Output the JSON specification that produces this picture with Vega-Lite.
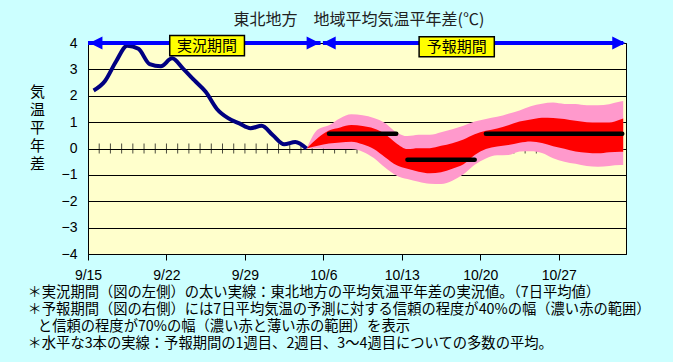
{
  "$schema": "https://vega.github.io/schema/vega-lite/v6.json",
  "width": 538,
  "height": 211,
  "autosize": {"type": "none"},
  "padding": {"left": 88, "top": 43, "right": 47, "bottom": 108},
  "background": "#ccffff",
  "view": {"fill": "#ffffcc", "stroke": "#000000", "strokeWidth": 1},
  "title": {
    "text": "東北地方　地域平均気温平年差(℃)",
    "font": "Noto Sans CJK JP",
    "fontSize": 16,
    "fontWeight": "normal",
    "color": "#222222",
    "anchor": "middle",
    "baseline": "alphabetic",
    "offset": -6,
    "dx": 2
  },
  "config": {
    "axis": {
      "labelFont": "Liberation Sans",
      "labelFontSize": 14,
      "labelColor": "#000000",
      "labelFlush": false,
      "labelOverlap": false
    }
  },
  "datasets": {
    "obs": [
      {"date": "2024-09-15T12:00", "v": 2.2},
      {"date": "2024-09-16T12:00", "v": 2.55},
      {"date": "2024-09-17T12:00", "v": 3.3},
      {"date": "2024-09-18T12:00", "v": 3.9},
      {"date": "2024-09-19T12:00", "v": 3.78},
      {"date": "2024-09-20T12:00", "v": 3.2},
      {"date": "2024-09-21T12:00", "v": 3.12},
      {"date": "2024-09-22T12:00", "v": 3.42},
      {"date": "2024-09-23T12:00", "v": 3.02},
      {"date": "2024-09-24T12:00", "v": 2.58},
      {"date": "2024-09-25T12:00", "v": 2.15},
      {"date": "2024-09-26T12:00", "v": 1.5},
      {"date": "2024-09-27T12:00", "v": 1.15},
      {"date": "2024-09-28T12:00", "v": 0.95},
      {"date": "2024-09-29T12:00", "v": 0.77},
      {"date": "2024-09-30T12:00", "v": 0.86},
      {"date": "2024-10-01T12:00", "v": 0.5},
      {"date": "2024-10-02T12:00", "v": 0.16},
      {"date": "2024-10-03T12:00", "v": 0.25},
      {"date": "2024-10-04T12:00", "v": 0.0}
    ],
    "fc": [
      {"date": "2024-10-04T12:00", "pt": 0, "rt": 0, "rb": 0, "pb": 0},
      {"date": "2024-10-05T12:00", "pt": 0.72, "rt": 0.4, "rb": 0.1, "pb": 0.0},
      {"date": "2024-10-06T12:00", "pt": 0.88, "rt": 0.68, "rb": 0.19, "pb": -0.02},
      {"date": "2024-10-07T12:00", "pt": 1.15, "rt": 0.8, "rb": 0.23, "pb": -0.02},
      {"date": "2024-10-08T12:00", "pt": 1.3, "rt": 0.89, "rb": 0.26, "pb": -0.02},
      {"date": "2024-10-09T12:00", "pt": 1.26, "rt": 0.85, "rb": 0.16, "pb": -0.12},
      {"date": "2024-10-10T12:00", "pt": 1.16, "rt": 0.76, "rb": -0.02, "pb": -0.36},
      {"date": "2024-10-11T12:00", "pt": 0.97, "rt": 0.55, "rb": -0.33, "pb": -0.72},
      {"date": "2024-10-12T12:00", "pt": 0.62, "rt": 0.2, "rb": -0.63, "pb": -1.02},
      {"date": "2024-10-13T12:00", "pt": 0.47, "rt": -0.02, "rb": -0.77, "pb": -1.16},
      {"date": "2024-10-14T12:00", "pt": 0.52, "rt": 0.01, "rb": -0.88, "pb": -1.26},
      {"date": "2024-10-15T12:00", "pt": 0.52, "rt": 0.01, "rb": -0.94, "pb": -1.34},
      {"date": "2024-10-16T12:00", "pt": 0.62, "rt": 0.1, "rb": -0.9, "pb": -1.35},
      {"date": "2024-10-17T12:00", "pt": 0.73, "rt": 0.2, "rb": -0.77, "pb": -1.22},
      {"date": "2024-10-18T12:00", "pt": 0.86, "rt": 0.34, "rb": -0.6, "pb": -0.98},
      {"date": "2024-10-19T12:00", "pt": 1.02, "rt": 0.54, "rb": -0.25, "pb": -0.62},
      {"date": "2024-10-20T12:00", "pt": 1.12, "rt": 0.67, "rb": -0.02, "pb": -0.38},
      {"date": "2024-10-21T12:00", "pt": 1.2, "rt": 0.76, "rb": 0.08, "pb": -0.26},
      {"date": "2024-10-22T12:00", "pt": 1.32, "rt": 0.88, "rb": 0.13, "pb": -0.25},
      {"date": "2024-10-23T12:00", "pt": 1.44, "rt": 1.02, "rb": 0.22, "pb": -0.11},
      {"date": "2024-10-24T12:00", "pt": 1.6, "rt": 1.1, "rb": 0.27, "pb": -0.1},
      {"date": "2024-10-25T12:00", "pt": 1.7, "rt": 1.17, "rb": 0.21, "pb": -0.17},
      {"date": "2024-10-26T12:00", "pt": 1.74, "rt": 1.16, "rb": 0.09, "pb": -0.37},
      {"date": "2024-10-27T12:00", "pt": 1.69, "rt": 1.12, "rb": -0.01, "pb": -0.5},
      {"date": "2024-10-28T12:00", "pt": 1.69, "rt": 1.05, "rb": -0.11, "pb": -0.58},
      {"date": "2024-10-29T12:00", "pt": 1.64, "rt": 1.0, "rb": -0.16, "pb": -0.66},
      {"date": "2024-10-30T12:00", "pt": 1.64, "rt": 0.99, "rb": -0.18, "pb": -0.69},
      {"date": "2024-10-31T12:00", "pt": 1.68, "rt": 0.99, "rb": -0.14, "pb": -0.66},
      {"date": "2024-11-01T12:00", "pt": 1.78, "rt": 1.1, "rb": -0.12, "pb": -0.63},
      {"date": "2024-11-01T18:00", "pt": 1.8, "rt": 1.14, "rb": -0.12, "pb": -0.63}
    ],
    "means": [
      {"start": "2024-10-06T12:00", "end": "2024-10-12T12:00", "v": 0.56},
      {"start": "2024-10-13T12:00", "end": "2024-10-19T12:00", "v": -0.43},
      {"start": "2024-10-20T12:00", "end": "2024-11-01T16:00", "v": 0.56}
    ],
    "ticks": [
      {"t": "2024-09-16T00:00"}, {"t": "2024-09-17T00:00"}, {"t": "2024-09-18T00:00"}, {"t": "2024-09-19T00:00"},
      {"t": "2024-09-20T00:00"}, {"t": "2024-09-21T00:00"}, {"t": "2024-09-22T00:00"}, {"t": "2024-09-23T00:00"},
      {"t": "2024-09-24T00:00"}, {"t": "2024-09-25T00:00"}, {"t": "2024-09-26T00:00"}, {"t": "2024-09-27T00:00"},
      {"t": "2024-09-28T00:00"}, {"t": "2024-09-29T00:00"}, {"t": "2024-09-30T00:00"}, {"t": "2024-10-01T00:00"},
      {"t": "2024-10-02T00:00"}, {"t": "2024-10-03T00:00"}, {"t": "2024-10-04T00:00"}, {"t": "2024-10-05T00:00"},
      {"t": "2024-10-06T00:00"}, {"t": "2024-10-07T00:00"}, {"t": "2024-10-08T00:00"}, {"t": "2024-10-09T00:00"},
      {"t": "2024-10-10T00:00"}, {"t": "2024-10-11T00:00"}, {"t": "2024-10-12T00:00"}, {"t": "2024-10-13T00:00"},
      {"t": "2024-10-14T00:00"}, {"t": "2024-10-15T00:00"}, {"t": "2024-10-16T00:00"}, {"t": "2024-10-17T00:00"},
      {"t": "2024-10-18T00:00"}, {"t": "2024-10-19T00:00"}, {"t": "2024-10-20T00:00"}, {"t": "2024-10-21T00:00"},
      {"t": "2024-10-22T00:00"}, {"t": "2024-10-23T00:00"}, {"t": "2024-10-24T00:00"}, {"t": "2024-10-25T00:00"},
      {"t": "2024-10-26T00:00"}, {"t": "2024-10-27T00:00"}, {"t": "2024-10-28T00:00"}, {"t": "2024-10-29T00:00"},
      {"t": "2024-10-30T00:00"}, {"t": "2024-10-31T00:00"}, {"t": "2024-11-01T00:00"}
    ],
    "periods": [
      {"label": "実況期間", "s": "2024-09-15T00:00", "e": "2024-10-05T18:00", "hl": "2024-09-15T17:00", "hr": "2024-10-05T02:00", "bs": "2024-09-22T07:00", "be": "2024-09-28T23:00", "mid": "2024-09-25T15:00", "top": 4.28, "bot": 3.52, "ty": 3.88},
      {"label": "予報期間", "s": "2024-10-05T23:00", "e": "2024-11-01T18:00", "hl": "2024-10-06T12:30", "hr": "2024-11-01T08:30", "bs": "2024-10-14T13:00", "be": "2024-10-21T06:00", "mid": "2024-10-17T21:30", "top": 4.24, "bot": 3.48, "ty": 3.86}
    ]
  },
  "layer": [
    {
      "data": {"name": "ticks"},
      "mark": {"type": "tick", "orient": "vertical", "size": 10, "thickness": 1, "color": "#000000"},
      "encoding": {
        "x": {
          "field": "t", "type": "temporal",
          "scale": {"domain": [{"year": 2024, "month": 9, "date": 15}, {"year": 2024, "month": 11, "date": 2}]},
          "axis": {
            "values": [
              {"year": 2024, "month": 9, "date": 15}, {"year": 2024, "month": 9, "date": 22},
              {"year": 2024, "month": 9, "date": 29}, {"year": 2024, "month": 10, "date": 6},
              {"year": 2024, "month": 10, "date": 13}, {"year": 2024, "month": 10, "date": 20},
              {"year": 2024, "month": 10, "date": 27}
            ],
            "tickCount": 20,
            "format": "%-m/%-d",
            "grid": false,
            "domain": true,
            "domainColor": "#000000",
            "ticks": true,
            "tickSize": 6,
            "tickColor": "#000000",
            "labelPadding": 8,
            "title": [
              "＊実況期間（図の左側）の太い実線：東北地方の平均気温平年差の実況値。（7日平均値）",
              "＊予報期間（図の右側）には7日平均気温の予測に対する信頼の程度が40%の幅（濃い赤の範囲）",
              "\u200b\u2002\u00a0と信頼の程度が70%の幅（濃い赤と薄い赤の範囲）を表示",
              "＊水平な3本の実線：予報期間の1週目、2週目、3～4週目についての多数の平均。"
            ],
            "titleFont": "Noto Sans CJK JP",
            "titleFontSize": 14.3,
            "titleFontWeight": "normal",
            "titleColor": "#000000",
            "titleAnchor": "start",
            "titleAlign": "left",
            "titleBaseline": "top",
            "titleX": -61,
            "titleY": 31,
            "titleLineHeight": 17.3
          }
        },
        "y": {
          "datum": 0, "type": "quantitative",
          "scale": {"domain": [-4, 4], "nice": false, "zero": false},
          "axis": {
            "values": [-4, -3, -2, -1, 0, 1, 2, 3, 4],
            "tickCount": 12,
            "format": "d",
            "grid": true,
            "gridColor": "#000000",
            "gridOpacity": 1,
            "gridWidth": 1,
            "domain": true,
            "domainColor": "#000000",
            "tickSize": 0,
            "labelPadding": 11,
            "title": ["気", "温", "平", "年", "差"],
            "titleFont": "Noto Sans CJK JP",
            "titleFontSize": 15,
            "titleFontWeight": "normal",
            "titleColor": "#000000",
            "titleAngle": 0,
            "titleAlign": "center",
            "titleBaseline": "top",
            "titleX": -51,
            "titleY": 41,
            "titleLineHeight": 18
          }
        }
      }
    },
    {
      "data": {"name": "fc"},
      "mark": {"type": "area", "color": "#ff99cc", "interpolate": "monotone", "opacity": 1},
      "encoding": {
        "x": {"field": "date", "type": "temporal"},
        "y": {"field": "pb", "type": "quantitative"},
        "y2": {"field": "pt"}
      }
    },
    {
      "data": {"name": "fc"},
      "mark": {"type": "area", "color": "#ff0000", "interpolate": "monotone", "opacity": 1},
      "encoding": {
        "x": {"field": "date", "type": "temporal"},
        "y": {"field": "rb", "type": "quantitative"},
        "y2": {"field": "rt"}
      }
    },
    {
      "data": {"name": "obs"},
      "mark": {"type": "line", "color": "#000080", "strokeWidth": 4, "interpolate": "monotone"},
      "encoding": {
        "x": {"field": "date", "type": "temporal"},
        "y": {"field": "v", "type": "quantitative"}
      }
    },
    {
      "data": {"name": "means"},
      "mark": {"type": "rule", "color": "#000000", "strokeWidth": 4.5, "strokeCap": "round"},
      "encoding": {
        "x": {"field": "start", "type": "temporal"},
        "x2": {"field": "end"},
        "y": {"field": "v", "type": "quantitative"}
      }
    },
    {
      "mark": {"type": "rule", "color": "#000000", "strokeWidth": 3.5},
      "encoding": {
        "x": {"datum": {"year": 2024, "month": 10, "date": 5, "hours": 20}, "type": "temporal"},
        "y": {"datum": 4, "type": "quantitative"},
        "y2": {"datum": -4}
      }
    },
    {
      "data": {"name": "periods"},
      "mark": {"type": "rule", "color": "#0000ff", "strokeWidth": 4},
      "encoding": {
        "x": {"field": "s", "type": "temporal"},
        "x2": {"field": "e"},
        "y": {"datum": 4, "type": "quantitative"}
      }
    },
    {
      "data": {"name": "periods"},
      "mark": {"type": "point", "shape": "M-1,0L1,-1L1,1Z", "filled": true, "color": "#0000ff", "opacity": 1, "size": 169, "strokeWidth": 0},
      "encoding": {
        "x": {"field": "hl", "type": "temporal"},
        "y": {"datum": 4, "type": "quantitative"}
      }
    },
    {
      "data": {"name": "periods"},
      "mark": {"type": "point", "shape": "M1,0L-1,-1L-1,1Z", "filled": true, "color": "#0000ff", "opacity": 1, "size": 169, "strokeWidth": 0},
      "encoding": {
        "x": {"field": "hr", "type": "temporal"},
        "y": {"datum": 4, "type": "quantitative"}
      }
    },
    {
      "data": {"name": "periods"},
      "mark": {"type": "rect", "fill": "#ffff00", "stroke": "#000000", "strokeWidth": 1.5},
      "encoding": {
        "x": {"field": "bs", "type": "temporal"},
        "x2": {"field": "be"},
        "y": {"field": "top", "type": "quantitative"},
        "y2": {"field": "bot"}
      }
    },
    {
      "data": {"name": "periods"},
      "mark": {"type": "text", "font": "Noto Sans CJK JP", "fontSize": 15, "color": "#000000", "align": "center", "baseline": "middle"},
      "encoding": {
        "x": {"field": "mid", "type": "temporal"},
        "y": {"field": "ty", "type": "quantitative"},
        "text": {"field": "label"}
      }
    },
    {
      "mark": {"type": "text", "text": "℃", "font": "Noto Sans CJK JP", "fontSize": 14, "color": "#000000", "align": "center", "baseline": "middle", "dx": 9, "dy": -20},
      "encoding": {
        "x": {"datum": {"year": 2024, "month": 9, "date": 15}, "type": "temporal"},
        "y": {"datum": 4, "type": "quantitative"}
      }
    }
  ]
}
